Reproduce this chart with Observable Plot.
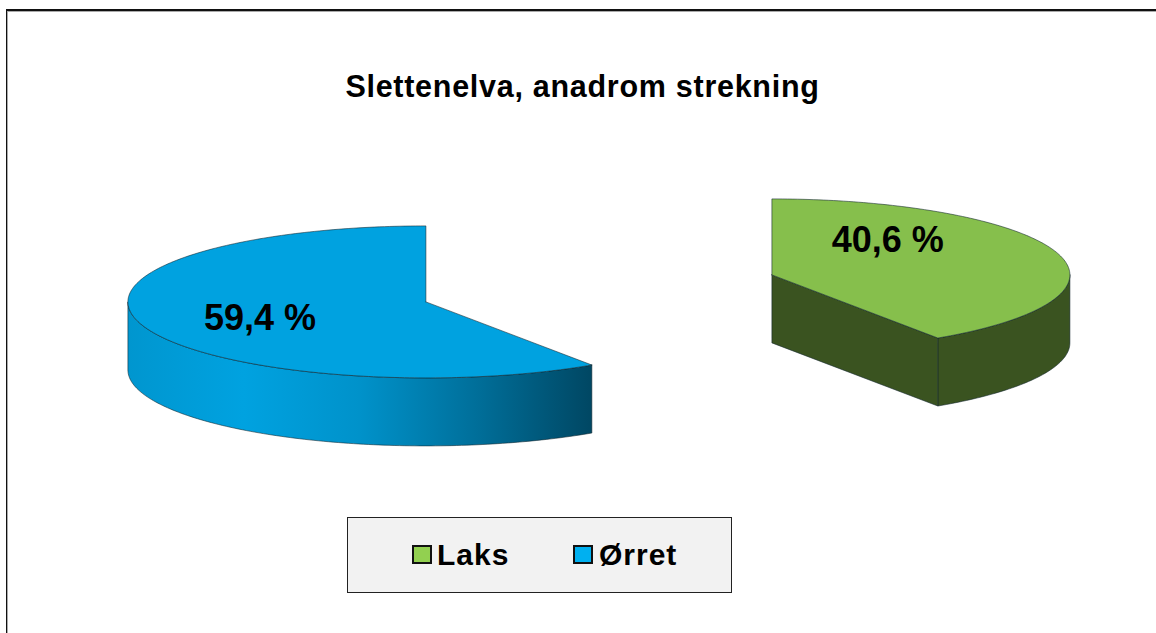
<!DOCTYPE html>
<html>
<head>
<meta charset="utf-8">
<script src="https://cdn.jsdelivr.net/npm/d3@7"></script>
<script src="https://cdn.jsdelivr.net/npm/@observablehq/plot@0.6"></script>
<style>
  html, body { margin: 0; padding: 0; background: #fff; width: 1156px; height: 633px; overflow: hidden; font-family: "Liberation Sans", Arial, sans-serif; color: #000; }
  #frame { position: absolute; left: 6px; top: 9px; right: -5px; bottom: -5px; border-top: 2px solid #111; border-left: 1px solid #111; box-shadow: inset 1px 1px 0 #aaa; }
  #title { position: absolute; left: 0; width: 1165px; top: 68px; text-align: center; font-size: 30.5px; letter-spacing: 0.72px; line-height: 36px; font-weight: bold; white-space: nowrap; }
  #chart { position: absolute; left: 0; top: 190px; }
  #chart svg { display: block; }
  #legend { position: absolute; left: 347px; top: 517px; width: 383px; height: 74px; background: #f2f2f2; border: 1px solid #222; font-size: 30px; letter-spacing: 1px; font-weight: bold; }
  .sw { position: absolute; top: 27px; width: 16px; height: 15px; border: 2px solid #111; }
  .lb { position: absolute; top: 20px; line-height: 34px; white-space: nowrap; }
</style>
</head>
<body>
<div id="frame"></div>
<div id="title">Slettenelva, anadrom strekning</div>
<div id="chart"></div>
<div id="legend"></div>
<script>
// Data
const species = ["Laks", "Ørret"];
const shares = [40.6, 59.4];
const labels = ["40,6 %", "59,4 %"];
const topColors = ["#86bf4c", "#00a2e0"];
const sideColors = ["#3a5320", "url(#sideGradient)"];
const legendColors = ["#92d050", "#00b0f0"];

// Layout of the exploded 3D pie, in units of the ellipse radii
const pxX = 298, pxY = 76, depth = 68 / 76;
const centerX = [346 / pxX, 0];
const centerY = [-27 / pxY, 0];
const labelDX = [0.389, -0.557];
const labelDY = [-0.45, 0.22];

const rad = d => d * Math.PI / 180;
function arc(i, a0, a1, drop) {
  const pts = [];
  const n = Math.max(1, Math.ceil(Math.abs(a1 - a0)));
  for (let k = 0; k <= n; k++) {
    const a = rad(a0 + (a1 - a0) * k / n);
    pts.push({x: centerX[i] + Math.sin(a), y: centerY[i] - Math.cos(a) + drop});
  }
  return pts;
}
const apex = (i, drop) => ({x: centerX[i], y: centerY[i] + drop});

const total = d3.sum(shares);
const ends = d3.cumsum(shares).map(v => v / total * 360);
const starts = [0, ...ends.slice(0, -1)];

const faces = [];
species.forEach((s, i) => {
  const a0 = starts[i], a1 = ends[i];
  // Outer wall: only the part that faces the viewer (90°–270°)
  const w0 = Math.max(a0, 90), w1 = Math.min(a1, 270);
  if (w1 > w0) {
    faces.push({fill: sideColors[i], pts: [...arc(i, w0, w1, 0), ...arc(i, w1, w0, depth), arc(i, w0, w0, 0)[0]]});
  }
  // Cut wall at the end of the slice when it faces the viewer
  if (i === 0) {
    const p = arc(i, a1, a1, 0)[0];
    faces.push({fill: sideColors[i], pts: [apex(i, 0), p, {x: p.x, y: p.y + depth}, apex(i, depth), apex(i, 0)]});
  }
  // Top
  faces.push({fill: topColors[i], pts: [apex(i, 0), ...arc(i, a0, a1, 0), apex(i, 0)]});
});

const W = 1156, H = 265, X0 = 425.4, Y0 = 111.4;
const gradient = () => {
  const defs = d3.create("svg:defs");
  const g = defs.append("linearGradient").attr("id", "sideGradient").attr("x1", 0).attr("x2", 1).attr("y1", 0).attr("y2", 0);
  [[0, "#0096cf"], [0.25, "#00a2e0"], [0.5, "#0092ca"], [0.75, "#006f9a"], [1, "#004763"]].forEach(([o, c]) =>
    g.append("stop").attr("offset", o).attr("stop-color", c));
  return defs.node();
};

const labelData = species.map((s, i) => ({
  text: labels[i],
  x: centerX[i] + labelDX[i],
  y: centerY[i] + labelDY[i]
}));

const plot = Plot.plot({
  width: W, height: H, margin: 0,
  x: {domain: [-X0 / pxX, (W - X0) / pxX], range: [0, W], axis: null},
  y: {domain: [-Y0 / pxY, (H - Y0) / pxY], range: [0, H], axis: null},
  style: {background: "transparent"},
  marks: [
    gradient,
    ...faces.map(f => Plot.line(f.pts, {x: "x", y: "y", fill: f.fill, stroke: "#10242c", strokeWidth: 0.7, strokeOpacity: 0.8, curve: "linear"})),
    Plot.text(labelData, {x: "x", y: "y", text: "text", fontSize: 36, fontWeight: "bold", fontFamily: "Liberation Sans", fill: "#000", textAnchor: "middle", lineAnchor: "middle"})
  ]
});
document.getElementById("chart").append(plot);

// Legend
const legend = document.getElementById("legend");
const swatchLeft = [64, 225], labelLeft = [89, 251];
species.forEach((s, i) => {
  const sw = document.createElement("div");
  sw.className = "sw"; sw.style.left = swatchLeft[i] + "px"; sw.style.background = legendColors[i];
  const lb = document.createElement("div");
  lb.className = "lb"; lb.style.left = labelLeft[i] + "px"; lb.textContent = s;
  legend.append(sw, lb);
});
</script>
</body>
</html>
